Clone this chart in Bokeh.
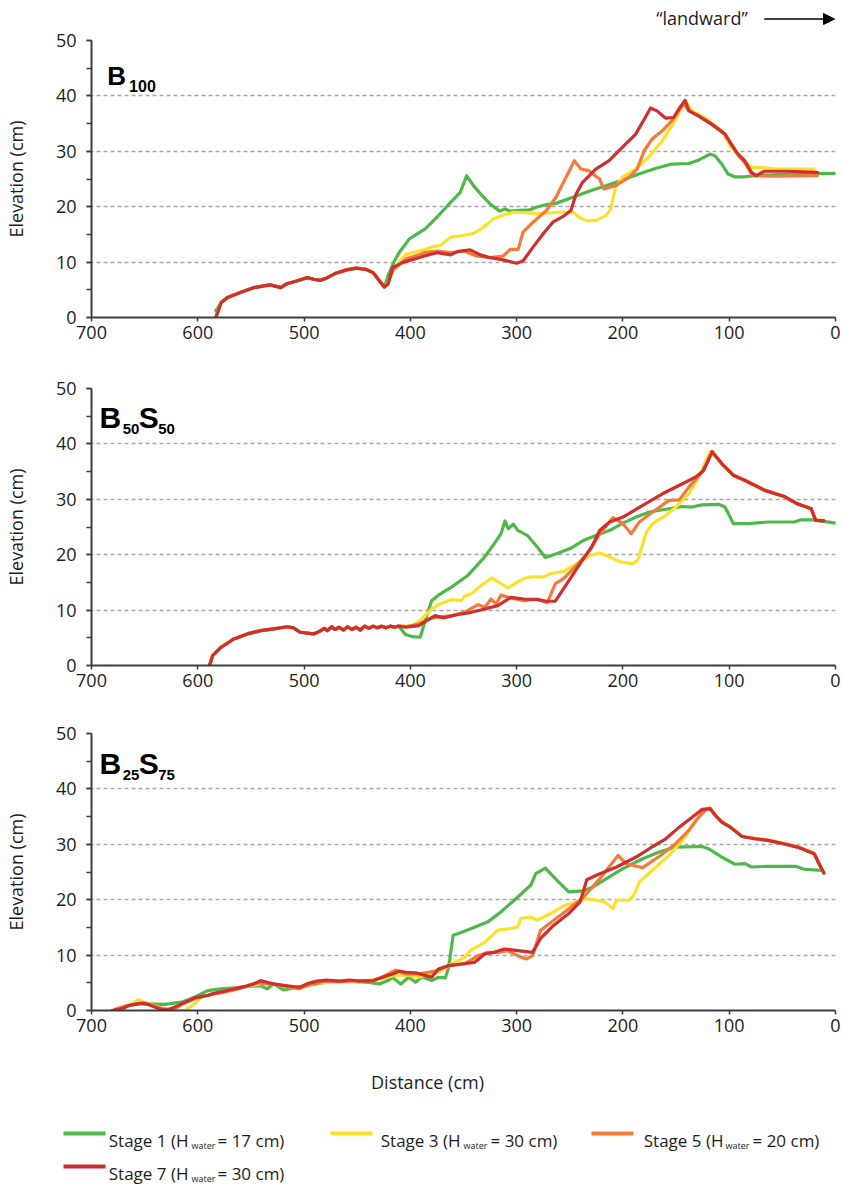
from bokeh.plotting import figure
from bokeh.models import Range1d, SingleIntervalTicker, Arrow, NormalHead
from bokeh.layouts import column, row
from bokeh.embed import file_html
from bokeh.resources import INLINE
from bokeh.core.properties import value

# ---------------- data (distance cm, elevation cm) ----------------
STAGE_LABELS = ["Stage 1", "Stage 3", "Stage 5", "Stage 7"]
STAGE_HWATER = ["= 17 cm)", "= 30 cm)", "= 20 cm)", "= 30 cm)"]

# --- B100 ---
B100_BASE_X = [578, 572, 560, 547, 538, 532, 522, 516, 507, 497, 491, 485, 479, 470, 460, 451, 442, 435, 429, 424.5]
B100_BASE_Y = [2.7, 3.6, 4.5, 5.4, 5.7, 5.9, 5.4, 6.1, 6.6, 7.2, 6.9, 6.7, 7.1, 8.0, 8.6, 8.9, 8.7, 8.1, 6.6, 5.5]

B100_S1_X = [583] + B100_BASE_X + [421, 415, 410.6, 401, 386, 375, 362, 353, 347, 340.6, 334, 325, 316, 311, 306, 294, 288, 281.5, 272, 263, 247, 232, 216, 200.6, 185, 169.5, 154, 138, 129, 118, 113.5, 107, 101, 95, 85.5, 76, 45, 0]
B100_S1_Y = [1.2] + B100_BASE_Y + [7.5, 10.2, 11.7, 14.2, 16.0, 18.1, 20.8, 22.6, 25.6, 23.8, 22.3, 20.5, 19.2, 19.6, 19.2, 19.4, 19.4, 19.9, 20.4, 20.6, 21.7, 22.8, 23.8, 24.8, 25.9, 26.9, 27.7, 27.8, 28.4, 29.5, 29.2, 27.7, 25.9, 25.4, 25.4, 25.6, 25.9, 26.0]

B100_S3_X = [582] + B100_BASE_X + [421, 416, 404, 392, 387, 378, 372, 362, 350, 340.6, 331, 322, 312.6, 303, 288, 278, 263, 247, 241, 235, 225.5, 216, 211.5, 207, 200.6, 188, 176, 163, 151, 141.5, 135, 123, 107, 98, 88.6, 79, 70, 57.5, 20]
B100_S3_Y = [0.8] + B100_BASE_Y + [6.3, 8.8, 11.4, 12.0, 12.2, 12.8, 13.0, 14.5, 14.8, 15.2, 16.3, 17.8, 18.5, 19.0, 18.9, 18.7, 19.0, 19.0, 18.1, 17.5, 17.5, 18.4, 19.6, 23.5, 25.3, 26.8, 28.9, 31.9, 35.5, 39.2, 37.3, 36.1, 33.7, 30.7, 28.9, 27.1, 27.1, 26.8, 26.8]

B100_S5_X = [582] + B100_BASE_X + [421, 416, 404, 392, 387, 375, 362, 350, 337.5, 325, 312.6, 306, 298.6, 294, 284.6, 272, 263, 253.5, 245.7, 239.5, 232, 222, 218, 207, 194.4, 186.6, 180, 172.6, 163, 154, 143, 138, 129, 116.6, 104, 98, 91.8, 85.5, 79, 76, 60, 17]
B100_S5_Y = [0.6] + B100_BASE_Y + [6.2, 8.6, 10.6, 11.3, 11.7, 12.0, 11.7, 12.0, 11.1, 10.8, 11.1, 12.3, 12.3, 15.4, 17.2, 19.3, 21.7, 25.3, 28.3, 26.8, 26.5, 25.0, 23.2, 23.8, 25.3, 26.8, 30.1, 32.2, 33.7, 35.5, 38.6, 37.4, 36.4, 34.9, 33.1, 31.2, 29.4, 28.0, 25.9, 25.6, 25.5, 25.6]

B100_S7_X = [583] + B100_BASE_X + [421, 416.8, 407.5, 392, 387, 375, 362, 356, 343.7, 334, 325, 312.6, 300, 294, 284.6, 275, 266, 256.6, 249, 244, 238, 225.5, 213, 200.6, 188, 179, 174, 168, 160, 152.4, 146, 141.5, 138, 129, 116.6, 104, 98, 91.8, 85.5, 79, 74.6, 67, 45, 17]
B100_S7_Y = [0.0] + B100_BASE_Y + [6.0, 9.0, 9.9, 10.8, 11.1, 11.7, 11.3, 11.9, 12.2, 11.3, 10.8, 10.4, 9.8, 10.2, 12.7, 15.1, 17.2, 18.2, 19.3, 22.3, 24.4, 26.8, 28.3, 30.7, 33.1, 36.1, 37.8, 37.3, 36.0, 36.1, 38.0, 39.2, 37.3, 36.4, 34.9, 33.1, 31.3, 29.5, 28.3, 26.2, 25.6, 26.4, 26.4, 26.2]

# --- B50S50 ---
B50_BASE_X = [589, 586, 578, 566, 553.4, 541, 528.6, 516, 510, 503.7, 491, 485, 481, 478, 474, 471, 467, 463, 459, 455, 451, 447, 443, 439, 435, 431, 427, 423, 419, 415, 411]
B50_BASE_Y = [0.0, 1.8, 3.3, 4.8, 5.7, 6.3, 6.6, 7.0, 6.8, 6.0, 5.7, 6.2, 6.7, 6.3, 7.0, 6.5, 6.9, 6.4, 7.0, 6.5, 6.9, 6.4, 7.1, 6.7, 7.1, 6.8, 7.1, 6.8, 7.1, 6.9, 7.1]

B50_S1_X = B50_BASE_X + [404.6, 398, 390.7, 386, 380, 373.6, 361, 345.7, 330, 321, 314.7, 311, 308, 303, 299, 290, 280.6, 273, 262, 249.6, 237, 224.8, 212.4, 200, 187.6, 175, 156.6, 144, 135, 125.6, 110, 104, 96, 82, 63.6, 38.8, 32.6, 20, 0]
B50_S1_Y = B50_BASE_Y + [5.6, 5.2, 5.1, 8.1, 11.7, 12.7, 14.2, 16.3, 19.6, 22.0, 23.8, 26.1, 24.7, 25.5, 24.4, 23.5, 21.4, 19.5, 20.2, 21.1, 22.6, 23.5, 24.4, 25.7, 26.8, 27.7, 28.3, 28.7, 28.6, 29.0, 29.1, 28.6, 25.6, 25.6, 25.9, 25.9, 26.3, 26.3, 25.7]

B50_S3_X = B50_BASE_X + [404, 398, 389, 380, 373.6, 361, 352, 349, 342.6, 333, 323.4, 314.7, 308, 299, 293, 286.8, 274.4, 268, 255.8, 243.4, 231, 221.7, 212.4, 203, 190.7, 186, 178, 172, 159.7, 150, 138, 128.7, 118, 107, 96, 85, 66.7, 48, 35.7, 23, 18.6, 11]
B50_S3_Y = B50_BASE_Y + [7.1, 7.2, 8.4, 10.2, 11.0, 11.9, 11.7, 12.5, 13.0, 14.5, 15.8, 14.8, 14.0, 15.1, 15.7, 16.0, 16.0, 16.6, 17.0, 18.4, 19.9, 20.3, 19.6, 18.7, 18.4, 19.0, 24.1, 25.6, 27.1, 28.6, 31.0, 34.0, 38.6, 36.5, 34.3, 33.3, 31.6, 30.4, 29.2, 28.2, 26.3, 26.2]

B50_S5_X = B50_BASE_X + [404, 392, 380, 361, 349, 336.4, 330, 324, 319.4, 314.7, 305.4, 293, 280.6, 271.3, 263.6, 255.8, 243.4, 231, 221.7, 209.3, 200, 192.2, 184.5, 172, 156.6, 147, 138, 125.6, 116, 107, 96, 85, 66.7, 48, 35.7, 23, 18.6, 11]
B50_S5_Y = B50_BASE_Y + [7.0, 7.5, 8.6, 9.0, 9.6, 11.0, 10.5, 12.0, 11.1, 12.7, 12.2, 11.7, 12.0, 11.3, 14.8, 15.7, 18.1, 20.8, 23.8, 26.7, 25.6, 23.8, 25.9, 27.7, 29.8, 29.9, 32.2, 34.9, 38.6, 36.5, 34.4, 33.4, 31.7, 30.5, 29.1, 28.4, 26.2, 26.1]

B50_S7_X = B50_BASE_X + [404.6, 392, 383, 376.7, 369, 355, 342.6, 330, 317.8, 305.4, 293, 280.6, 271.3, 263.6, 252.7, 240.3, 229.5, 221.7, 212.4, 200, 181.4, 162.8, 144, 131.8, 124, 116, 107, 96, 85, 66.7, 48, 35.7, 23, 18.6, 10.9]
B50_S7_Y = B50_BASE_Y + [6.9, 7.2, 8.3, 9.0, 8.6, 9.2, 9.6, 10.2, 10.8, 12.3, 12.0, 11.9, 11.6, 11.6, 14.8, 18.4, 21.4, 24.4, 25.9, 26.8, 28.9, 31.0, 32.8, 34.0, 35.2, 38.6, 36.4, 34.3, 33.4, 31.6, 30.5, 29.2, 28.3, 26.2, 26.1]

# --- B25S75 ---
B25_S1_X = [678, 671, 659, 646.6, 631, 615.5, 603, 590.7, 578, 559.6, 541, 534.8, 528.6, 519, 507, 497.5, 479, 460, 441.6, 429, 420, 417, 409, 401.6, 395, 389, 380, 373.6, 367, 364, 359.7, 353.5, 342.6, 327, 314.7, 302.3, 286.8, 282, 273, 262, 251, 237, 228, 215.5, 200, 181.4, 166, 150.4, 125.6, 119.4, 107, 94.6, 85, 79, 66.7, 37, 29.5, 14]
B25_S1_Y = [0.0, 0.5, 1.2, 1.2, 1.1, 1.5, 2.4, 3.6, 3.9, 4.2, 4.5, 3.9, 4.8, 3.7, 4.2, 4.5, 5.1, 5.3, 5.1, 4.8, 5.5, 6.0, 4.8, 6.0, 5.1, 6.1, 5.4, 6.0, 5.9, 7.8, 13.6, 14.0, 14.8, 16.0, 17.8, 19.9, 22.6, 24.7, 25.7, 23.5, 21.4, 21.6, 22.3, 23.8, 25.6, 27.4, 28.6, 29.5, 29.6, 29.2, 27.7, 26.4, 26.5, 25.9, 26.0, 26.0, 25.5, 25.3]

B25_S3_X = [676, 665, 656, 646.6, 634, 621.7, 612, 603, 597, 584.5, 566, 547, 534.8, 519, 503.7, 488, 466.5, 448, 426, 416.8, 404, 392, 373.6, 361, 349, 342.6, 330, 317.8, 305.4, 299, 296, 286.8, 280.6, 268, 262, 254, 243.4, 234, 225, 217, 209.3, 206, 193.8, 189, 184.5, 169, 156.6, 144, 131.8, 122.5, 118, 113, 107, 99, 88, 76, 63.6, 51, 35.7, 20, 15.5, 11]
B25_S3_Y = [0.0, 0.9, 1.9, 1.2, 0.4, 0.0, 0.0, 1.2, 2.4, 3.0, 3.9, 4.6, 5.0, 4.4, 4.0, 5.0, 5.1, 5.2, 5.8, 6.3, 6.4, 6.0, 6.9, 8.4, 9.6, 11.0, 12.3, 14.5, 14.8, 15.1, 16.6, 16.9, 16.3, 17.5, 18.2, 19.0, 19.6, 20.2, 19.9, 19.6, 18.4, 19.9, 19.9, 21.1, 23.2, 25.9, 28.0, 30.7, 34.3, 36.4, 36.6, 35.3, 34.1, 33.2, 31.5, 31.1, 30.8, 30.3, 29.6, 28.4, 26.6, 24.9]

B25_S5_X = [678, 668, 658, 650, 640, 630, 620, 610, 600, 588, 575, 560, 545, 535, 520, 505, 495, 480, 465, 450, 435, 425, 414, 404.6, 392, 376.7, 364, 349, 336.4, 327, 317.8, 308.5, 299, 291, 285, 277.5, 265, 252.7, 237, 221.7, 204.6, 197, 181.4, 166, 150.4, 138, 128.7, 121, 118, 113, 107, 99, 88, 76, 63.6, 51, 35.7, 20, 15.5, 11]
B25_S5_Y = [0.2, 0.8, 1.2, 1.4, 0.7, 0.2, 0.5, 1.6, 2.3, 2.9, 3.3, 4.0, 5.0, 4.8, 4.6, 3.9, 4.7, 5.3, 5.2, 5.4, 5.3, 6.2, 7.3, 6.6, 6.6, 7.1, 8.1, 8.4, 9.9, 10.5, 10.5, 10.8, 9.9, 9.3, 9.9, 14.5, 16.3, 18.1, 20.5, 23.8, 28.0, 26.5, 25.8, 27.8, 30.1, 32.5, 34.9, 36.4, 36.5, 35.2, 34.0, 33.1, 31.4, 31.0, 30.7, 30.2, 29.5, 28.3, 26.5, 24.8]

B25_S7_X = [680.7, 671.4, 665, 659, 653, 646.6, 640, 634, 628, 621.7, 615.5, 609, 603, 597, 590.7, 584.5, 575, 566, 556.5, 547, 541, 534.8, 528.6, 519, 510, 503.7, 497.5, 488, 479, 466.5, 457, 448, 435, 426, 416.8, 410.6, 404, 395, 385.7, 380, 373.6, 364, 352, 339.5, 330, 321, 311.6, 299, 285, 277.5, 265, 251, 240.3, 234, 225, 206, 187.6, 172, 159.7, 147, 134.9, 125.6, 118, 113, 107, 99, 88, 76, 63.6, 51, 35.7, 20, 15.5, 10.9]
B25_S7_Y = [0.0, 0.3, 0.9, 1.1, 1.3, 1.1, 0.6, 0.1, 0.1, 0.6, 1.2, 1.7, 2.3, 2.5, 2.7, 3.1, 3.5, 3.9, 4.3, 4.8, 5.4, 5.1, 4.8, 4.5, 4.3, 4.2, 4.8, 5.3, 5.5, 5.3, 5.5, 5.3, 5.4, 6.0, 6.6, 7.1, 6.9, 6.8, 6.3, 6.0, 7.5, 8.1, 8.4, 8.7, 10.2, 10.5, 11.1, 10.8, 10.5, 13.0, 15.4, 17.5, 19.6, 23.6, 24.4, 25.9, 27.7, 29.6, 31.0, 33.1, 34.9, 36.3, 36.4, 35.2, 34.0, 33.1, 31.4, 31.0, 30.7, 30.2, 29.5, 28.3, 26.5, 24.8]

# ---------------- styling ----------------
COLORS = ["#4fb84b", "#fde02b", "#f37a3b", "#cf2f2e"]
FONT = "Open Sans"
TXT = "#1d1d1b"
AX = "#3c3c3b"
W = 842
BL, BR = 83, 7
FW = W - BL - BR


def px_x(px):
    return 700 - px * 700.0 / FW


def px_y(py):
    return 50 - py * 50.0 / 277.0


def panel(height, top, bottom, series, title_parts):
    p = figure(width=W, height=height, x_range=Range1d(700, 0), y_range=Range1d(0, 50),
               output_backend="svg", toolbar_location=None,
               min_border_left=BL, min_border_right=BR,
               min_border_top=top, min_border_bottom=bottom)
    p.outline_line_color = None
    xt = SingleIntervalTicker(interval=100, num_minor_ticks=0)
    yt = SingleIntervalTicker(interval=10, num_minor_ticks=2)
    p.xaxis.ticker = xt
    p.yaxis.ticker = yt
    p.ygrid.ticker = yt
    p.xgrid.visible = False
    p.ygrid.grid_line_color = "#a6a6a6"
    p.ygrid.grid_line_dash = "4 3"
    p.ygrid.grid_line_width = 1.3
    for ax in (p.xaxis, p.yaxis):
        ax.axis_line_color = AX
        ax.axis_line_width = 2
        ax.major_tick_line_color = AX
        ax.major_tick_line_width = 1.5
        ax.major_tick_in = 0
        ax.major_label_text_font = FONT
        ax.major_label_text_font_size = "18px"
        ax.major_label_text_color = TXT
    p.xaxis.major_tick_out = 4
    p.xaxis.major_label_standoff = 4
    p.xaxis.minor_tick_line_color = None
    p.yaxis.major_tick_out = 5
    p.yaxis.minor_tick_out = 5
    p.yaxis.minor_tick_in = 0
    p.yaxis.minor_tick_line_color = AX
    p.yaxis.minor_tick_line_width = 1.5
    p.yaxis.major_label_standoff = 10
    p.yaxis.axis_label = "Elevation (cm)"
    p.yaxis.axis_label_text_font = FONT
    p.yaxis.axis_label_text_font_size = "18px"
    p.yaxis.axis_label_text_font_style = "normal"
    p.yaxis.axis_label_text_color = TXT
    p.yaxis.axis_label_standoff = 25
    for (xs, ys), c in zip(series, COLORS):
        p.line(xs, ys, line_color=c, line_width=3.2, line_join="round", line_cap="round")
    for txt, ox, oy, size in title_parts:
        p.text(x=[px_x(ox)], y=[px_y(oy)], text=[txt], text_font=value("Liberation Sans"),
               text_font_style="bold", text_font_size=size, text_color="black",
               text_align="left", text_baseline="alphabetic")
    return p


def blank(height, x0, x1, y_bottom, y_top, left, right):
    f = figure(width=W, height=height, x_range=Range1d(x0, x1), y_range=Range1d(y_bottom, y_top),
               output_backend="svg", toolbar_location=None, x_axis_location=None,
               y_axis_location=None, min_border_left=left, min_border_right=right,
               min_border_top=0, min_border_bottom=0)
    f.grid.visible = False
    f.outline_line_color = None
    return f


# header with "landward" arrow (coordinates = page pixels)
hdr = blank(28, BL, BL + FW, 28, 0, BL, BR)
hdr.text(x=[700], y=[17], text=["\u201clandward\u201d"], text_font=value(FONT),
         text_font_size="18px", text_align="center", text_baseline="middle", text_color=TXT)
hdr.add_layout(Arrow(end=NormalHead(size=11, fill_color="black", line_color="black", line_width=1),
                     x_start=763, y_start=18.5, x_end=834, y_end=18.5,
                     line_width=1.5, line_color="black"))

p1 = panel(324, 12, 35,
           [(B100_S1_X, B100_S1_Y), (B100_S3_X, B100_S3_Y), (B100_S5_X, B100_S5_Y), (B100_S7_X, B100_S7_Y)],
           [("B", 16, 35, "26px"), ("100", 38, 45, "16px")])
p2 = panel(348, 36, 35,
           [(B50_S1_X, B50_S1_Y), (B50_S3_X, B50_S3_Y), (B50_S5_X, B50_S5_Y), (B50_S7_X, B50_S7_Y)],
           [("B", 8, 29, "30px"), ("50", 31.5, 40, "15px"), ("S", 47.7, 29, "30px"), ("50", 67.5, 40, "15px")])
p3 = panel(360, 33, 50,
           [(B25_S1_X, B25_S1_Y), (B25_S3_X, B25_S3_Y), (B25_S5_X, B25_S5_Y), (B25_S7_X, B25_S7_Y)],
           [("B", 8, 30, "30px"), ("25", 31.5, 41, "15px"), ("S", 47.7, 30, "30px"), ("75", 67.5, 41, "15px")])

# footer: x-axis title and legend (full-width frame, coordinates = page pixels)
leg = blank(124, 0, W, 1184, 1060, 0, 0)
leg.text(x=[427], y=[1081], text=["Distance (cm)"], text_font=value(FONT),
         text_font_size="18px", text_align="center", text_baseline="middle", text_color=TXT)

rows = [1133, 1133, 1133, 1166]
sw_x0 = [63, 330, 591, 63]
main_end = [188, 460, 723, 188]
sub_x = [191, 463, 725, 191]
tail_x = [217, 490, 752, 217]
leg.segment(x0=sw_x0, y0=rows, x1=[x + 42 for x in sw_x0], y1=rows,
            line_color=COLORS, line_width=4)
leg.text(x=main_end, y=[r + 7 for r in rows], text=[s + " (H" for s in STAGE_LABELS],
         text_font=value(FONT), text_font_size="17px", text_align="right",
         text_baseline="alphabetic", text_color=TXT)
leg.text(x=sub_x, y=[r + 12 for r in rows], text=["water"] * 4,
         text_font=value(FONT), text_font_size="9px", text_align="left",
         text_baseline="alphabetic", text_color=TXT)
leg.text(x=tail_x, y=[r + 7 for r in rows], text=STAGE_HWATER,
         text_font=value(FONT), text_font_size="17px", text_align="left",
         text_baseline="alphabetic", text_color=TXT)

layout = column(hdr, p1, p2, p3, row(leg))
open("out.html", "w").write(file_html(layout, INLINE))
